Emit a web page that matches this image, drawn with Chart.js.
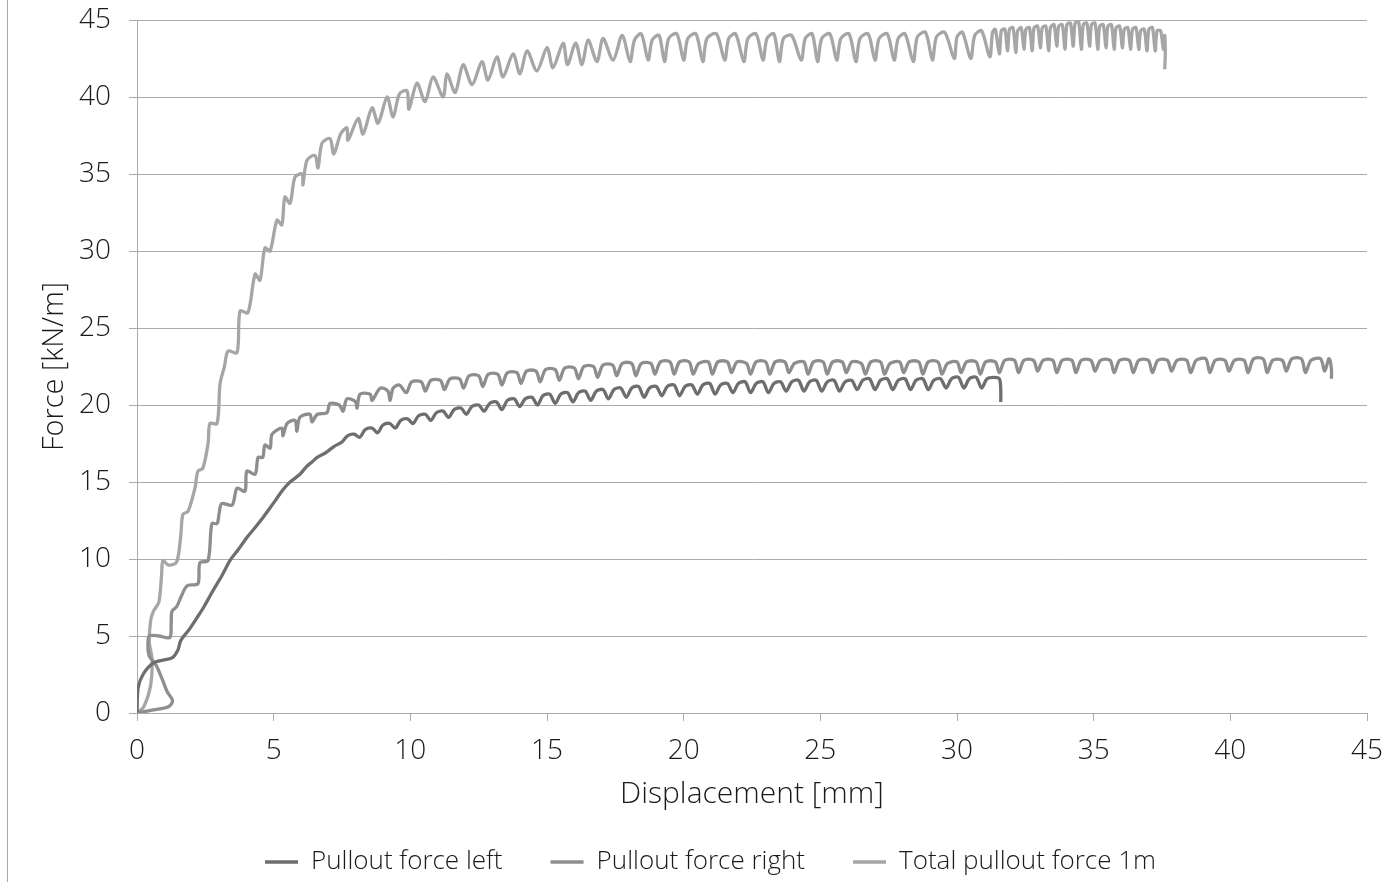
<!DOCTYPE html>
<html><head><meta charset="utf-8">
<script src="https://cdn.jsdelivr.net/npm/chart.js@4.4.1/dist/chart.umd.min.js"></script>
<style>
html,body{margin:0;padding:0;background:#fff;}
#wrap{position:relative;width:1389px;height:893px;}
#border{position:absolute;left:7px;top:0;width:1px;height:882px;background:#a8a8a8;}
</style></head><body>
<div id="wrap"><canvas id="c" width="1389" height="893"></canvas><div id="border"></div></div>
<script>
const seriesNames = ['Pullout force left', 'Pullout force right', 'Total pullout force 1m'];
const seriesColors = ['#6e6e6e', '#8e8e8e', '#a6a6a6'];
const xTicks = [0, 5, 10, 15, 20, 25, 30, 35, 40, 45];
const yTicks = [0, 5, 10, 15, 20, 25, 30, 35, 40, 45];

const leftPts = [[0,0],[0.04,1.6],[0.22,2.5],[0.6,3.25],[1.0,3.45],[1.3,3.6],[1.5,4.1],[1.6,4.7],[1.9,5.4],[2.2,6.2],[2.45,6.9],[2.67,7.6],[2.9,8.3],[3.1,8.9],[3.4,9.9],[3.7,10.6],[4.02,11.4],[4.3,12.0],[4.61,12.7],[4.9,13.4],[5.1,13.9],[5.34,14.5],[5.6,15.0],[5.96,15.5],[6.2,16.0],[6.4,16.3],[6.59,16.6],[6.9,16.9],[7.2,17.3],
[7.5,17.6],[7.7,18.0],[7.95,18.1],
[8.15,17.9],[8.35,18.4],[8.6,18.5],
[8.8,18.2],[9.0,18.7],[9.25,18.8],
[9.45,18.5],[9.65,19.0],[9.9,19.1],
[10.1,18.8],[10.3,19.3],[10.55,19.4],
[10.75,19.0],[10.95,19.5],[11.2,19.6],
[11.4,19.2],[11.6,19.7],[11.85,19.8],
[12.05,19.4],[12.25,19.9],[12.5,20.0],
[12.7,19.6],[12.9,20.1],[13.15,20.2],
[13.35,19.7],[13.55,20.3],[13.8,20.4],
[14.0,19.9],[14.2,20.4],[14.45,20.5],
[14.65,20.0],[14.85,20.6],[15.1,20.7],
[15.3,20.1],[15.5,20.7],[15.75,20.8],
[15.95,20.2],[16.15,20.8],[16.4,20.9],
[16.6,20.3],[16.8,20.9],[17.05,21.0],
[17.25,20.4],[17.45,21.0],[17.7,21.1],
[17.9,20.5],[18.1,21.1],[18.35,21.2],
[18.55,20.5],[18.75,21.1],[19.0,21.2],
[19.2,20.6],[19.4,21.2],[19.65,21.3],
[19.85,20.6],[20.05,21.2],[20.3,21.3],
[20.5,20.7],[20.7,21.3],[20.95,21.4],
[21.15,20.7],[21.35,21.3],[21.6,21.4],
[21.8,20.8],[22.0,21.4],[22.25,21.5],
[22.45,20.8],[22.65,21.4],[22.9,21.5],
[23.1,20.8],[23.3,21.4],[23.55,21.5],
[23.75,20.9],[23.95,21.5],[24.2,21.6],
[24.4,20.9],[24.6,21.5],[24.85,21.6],
[25.05,20.9],[25.25,21.5],[25.5,21.6],
[25.7,20.9],[25.9,21.5],[26.15,21.6],
[26.35,21.0],[26.55,21.6],[26.8,21.7],
[27.0,21.0],[27.2,21.6],[27.45,21.7],
[27.65,21.0],[27.85,21.6],[28.1,21.7],
[28.3,21.0],[28.5,21.6],[28.75,21.7],
[28.95,21.0],[29.15,21.6],[29.4,21.7],
[29.6,21.1],[29.8,21.7],[30.05,21.8],
[30.25,21.1],[30.45,21.7],[30.7,21.8],
[30.9,21.1],[31.1,21.7],[31.35,21.8],
[31.55,21.7],[31.6,21.0],[31.6,20.2]];

const rightPts = [[0,0],[0.6,0.2],[1.15,0.4],[1.3,0.8],[1.1,1.4],[0.9,2.3],[0.7,3.1],[0.45,3.7],[0.4,4.4],[0.45,5.0],[0.8,5.0],[1.2,4.9],[1.25,5.8],[1.28,6.6],[1.45,6.9],[1.6,7.5],[1.76,8.1],[1.87,8.3],[2.23,8.4],[2.3,9.75],[2.6,9.9],[2.74,12.3],[2.93,12.3],[3.0,12.9],[3.1,13.6],[3.48,13.5],[3.66,14.6],[3.95,14.4],[4.02,15.7],[4.32,15.5],[4.43,16.6],[4.6,16.6],[4.68,17.4],[4.87,17.2],[4.94,18.1],[5.3,18.5],[5.34,18.0],[5.49,18.8],[5.78,19.0],[5.85,18.3],[5.96,19.2],[6.33,19.4],[6.4,18.9],[6.6,19.4],[6.95,19.5],[7.06,20.1],[7.4,20.0],[7.54,19.6],[7.68,20.4],[8.0,20.2],[8.05,19.8],[8.16,20.7],[8.53,20.7],[8.6,20.3],[8.9,21.1],[9.18,20.9],[9.26,20.3],[9.37,21.1],[9.6,21.3],
[9.85,20.8],[10.05,21.5],[10.4,21.5],
[10.55,20.9],[10.75,21.6],[11.1,21.6],
[11.25,21.0],[11.45,21.7],[11.8,21.7],
[11.95,21.1],[12.15,21.9],[12.5,21.9],
[12.65,21.2],[12.85,22.0],[13.2,22.0],
[13.35,21.3],[13.55,22.1],[13.9,22.1],
[14.05,21.4],[14.25,22.2],[14.6,22.2],
[14.75,21.5],[14.95,22.3],[15.3,22.3],
[15.45,21.6],[15.65,22.4],[16.0,22.4],
[16.15,21.7],[16.35,22.5],[16.7,22.5],
[16.85,21.8],[17.05,22.6],[17.4,22.6],
[17.55,21.9],[17.75,22.7],[18.1,22.7],
[18.25,21.9],[18.45,22.7],[18.8,22.7],
[18.95,22.0],[19.15,22.8],[19.5,22.8],
[19.65,22.0],[19.85,22.8],[20.2,22.8],
[20.35,22.0],[20.55,22.7],[20.9,22.8],
[21.05,22.0],[21.25,22.8],[21.6,22.8],
[21.75,22.1],[21.95,22.8],[22.3,22.7],
[22.45,22.0],[22.65,22.8],[23.0,22.8],
[23.15,22.0],[23.35,22.8],[23.7,22.8],
[23.85,22.1],[24.05,22.7],[24.4,22.8],
[24.55,22.0],[24.75,22.8],[25.1,22.8],
[25.25,22.0],[25.45,22.8],[25.8,22.8],
[25.95,22.1],[26.15,22.8],[26.5,22.7],
[26.65,22.0],[26.85,22.8],[27.2,22.8],
[27.35,22.0],[27.55,22.7],[27.9,22.8],
[28.05,22.1],[28.25,22.8],[28.6,22.8],
[28.75,22.0],[28.95,22.8],[29.3,22.8],
[29.45,22.0],[29.65,22.7],[30.0,22.8],
[30.15,22.1],[30.35,22.8],[30.7,22.8],
[30.85,22.0],[31.05,22.8],[31.4,22.8],
[31.55,22.1],[31.75,22.9],[32.1,22.9],
[32.25,22.1],[32.45,22.9],[32.8,22.9],
[32.95,22.2],[33.15,22.9],[33.5,22.9],
[33.65,22.1],[33.85,22.9],[34.2,22.9],
[34.35,22.1],[34.55,22.9],[34.9,22.9],
[35.05,22.2],[35.25,22.9],[35.6,22.9],
[35.75,22.1],[35.95,22.9],[36.3,22.9],
[36.45,22.1],[36.65,22.9],[37.0,22.9],
[37.15,22.1],[37.35,22.9],[37.7,22.9],
[37.85,22.2],[38.05,22.9],[38.4,22.9],
[38.55,22.1],[38.75,22.9],[39.1,23.0],
[39.25,22.1],[39.45,22.9],[39.8,22.9],
[39.95,22.2],[40.15,22.9],[40.5,22.9],
[40.65,22.1],[40.85,23.0],[41.2,23.0],
[41.35,22.1],[41.55,22.9],[41.9,22.9],
[42.05,22.2],[42.25,23.0],[42.6,23.0],
[42.75,22.1],[42.95,22.9],[43.3,23.0],
[43.45,22.2],[43.6,23.0],[43.65,22.9],[43.7,22.3],[43.7,21.7]];

const totalPts = [[0,0],[0.25,0.4],[0.5,1.8],[0.55,3.5],[0.45,4.6],[0.5,6.0],[0.6,6.6],[0.8,7.2],[0.9,9.0],[0.95,9.9],[1.15,9.6],[1.45,9.8],[1.6,11.5],[1.68,12.9],[1.87,13.1],[2.12,14.6],[2.23,15.7],[2.41,15.9],[2.6,17.5],[2.67,18.8],[2.93,18.8],[3.04,21.4],[3.2,22.5],[3.33,23.5],[3.66,23.4],[3.77,26.1],[4.06,26.0],[4.32,28.5],[4.5,28.1],[4.68,30.2],[4.87,30.0],[5.12,32.0],[5.3,31.7],[5.41,33.5],[5.6,33.1],[5.78,34.8],[6.04,35.0],[6.07,34.3],[6.22,35.9],[6.51,36.2],[6.62,35.4],[6.77,37.0],[7.06,37.3],[7.2,36.3],[7.45,37.6],[7.68,38.0],[7.72,37.2],[8.09,38.6],[8.27,37.6],[8.6,39.3],[8.82,38.3],[9.15,40.0],[9.37,38.7],[9.6,40.2],[9.88,40.4],[9.95,39.2],[10.24,40.9],[10.54,39.7],[10.83,41.3],[11.2,40.0],[11.34,41.5],[11.64,40.3],[11.93,42.1],[12.26,40.8],[12.62,42.3],[12.84,41.1],[13.17,42.6],[13.39,41.3],[13.76,42.8],[14.01,41.5],[14.27,43.0],[14.63,41.7],[15.0,43.2],[15.22,41.9],[15.59,43.5],[15.75,42.1],[16.05,43.5],[16.28,42.1],[16.5,43.7],[16.83,42.3],[17.05,43.8],[17.42,42.4],[17.75,44.0],
[18.04,42.3],[18.2,43.7],[18.45,44.1],
[18.7,42.4],[18.85,43.7],[19.1,44.0],
[19.3,42.3],[19.45,43.8],[19.75,44.1],
[20.0,42.4],[20.15,43.8],[20.45,44.1],
[20.7,42.3],[20.85,43.8],[21.2,44.1],
[21.5,42.4],[21.65,43.8],[21.9,44.1],
[22.2,42.3],[22.35,43.8],[22.65,44.1],
[22.9,42.4],[23.05,43.8],[23.3,44.1],
[23.5,42.3],[23.65,43.8],[23.95,44.0],
[24.3,42.4],[24.45,43.8],[24.7,44.1],
[24.9,42.3],[25.05,43.8],[25.35,44.1],
[25.6,42.4],[25.75,43.8],[26.05,44.1],
[26.3,42.3],[26.45,43.8],[26.75,44.1],
[27.0,42.4],[27.15,43.8],[27.45,44.1],
[27.7,42.4],[27.85,43.8],[28.1,44.1],
[28.4,42.3],[28.55,43.9],[28.85,44.2],
[29.1,42.4],[29.25,43.9],[29.55,44.2],
[29.9,42.5],[30.0,43.9],[30.2,44.2],
[30.5,42.5],[30.65,44.0],[30.9,44.3],
[31.2,42.6],[31.3,44.2],[31.4,44.4],
[31.55,42.8],[31.62,44.3],[31.75,44.4],
[31.85,43.0],[31.92,44.4],[32.05,44.5],
[32.15,42.9],[32.22,44.3],[32.35,44.5],
[32.45,43.1],[32.52,44.4],[32.65,44.5],
[32.75,43.0],[32.82,44.5],[32.95,44.6],
[33.05,43.2],[33.12,44.5],[33.25,44.6],
[33.35,43.0],[33.42,44.5],[33.55,44.7],
[33.65,43.3],[33.72,44.6],[33.85,44.7],
[33.95,43.1],[34.02,44.7],[34.15,44.8],
[34.25,43.3],[34.32,44.8],[34.45,44.9],
[34.55,43.1],[34.62,44.7],[34.75,44.8],
[34.85,43.3],[34.92,44.7],[35.05,44.8],
[35.15,43.1],[35.22,44.6],[35.35,44.7],
[35.45,43.2],[35.52,44.6],[35.65,44.7],
[35.75,43.1],[35.82,44.5],[35.95,44.6],
[36.05,43.2],[36.12,44.4],[36.25,44.5],
[36.35,43.1],[36.42,44.4],[36.55,44.5],
[36.65,43.1],[36.72,44.3],[36.85,44.4],
[36.95,43.0],[37.02,44.4],[37.15,44.5],
[37.25,43.0],[37.32,44.3],[37.45,44.3],
[37.55,43.1],[37.6,44.0],[37.62,42.8],[37.6,41.8]];

const FONT = "'Open Sans', 'Liberation Sans', Arial, sans-serif";
const TEXT = '#1a1a1a';
const GRID = '#ababab';

const toXY = pts => pts.map(p => ({x: p[0], y: p[1]}));
const allPts = [leftPts, rightPts, totalPts];

const datasets = seriesNames.map((name, i) => ({
  label: name,
  data: toXY(allPts[i]),
  showLine: true,
  borderColor: seriesColors[i],
  backgroundColor: seriesColors[i],
  borderWidth: 3.3,
  pointRadius: 0,
  pointHoverRadius: 0,
  tension: 0.3,
  pointStyle: 'line',
  order: i
}));

const legendShift = {
  id: 'legendShift',
  afterLayout(chart) {
    if (chart.legend) { chart.legend.left += 27; chart.legend.right += 27; }
  }
};

new Chart(document.getElementById('c'), {
  type: 'scatter',
  data: {datasets},
  plugins: [legendShift],
  options: {
    responsive: false,
    animation: false,
    layout: {padding: {left: 0, top: 20, right: 22, bottom: 8}},
    plugins: {
      tooltip: {enabled: false},
      legend: {
        position: 'bottom',
        labels: {
          usePointStyle: true, pointStyle: 'line', pointStyleWidth: 33, boxHeight: 4,
          padding: 48, color: TEXT, font: {size: 26, family: FONT, weight: 300}
        }
      }
    },
    scales: {
      x: {
        type: 'linear', min: 0, max: 45,
        afterBuildTicks: s => { s.ticks = xTicks.map(v => ({value: v})); },
        ticks: {color: TEXT, font: {size: 28, family: FONT, weight: 300}, padding: 13, maxRotation: 0},
        grid: {drawOnChartArea: false, drawTicks: true, tickLength: 8, color: GRID, lineWidth: 1},
        border: {color: GRID, width: 1},
        title: {display: true, text: 'Displacement [mm]', color: TEXT, font: {size: 30, family: FONT, weight: 300}, padding: {top: 0, bottom: -11}},
        afterFit: s => { s.height = 88; s.paddingLeft = 0; s.paddingRight = 0; }
      },
      y: {
        type: 'linear', min: 0, max: 45,
        afterBuildTicks: s => { s.ticks = yTicks.map(v => ({value: v})); },
        ticks: {color: TEXT, font: {size: 28, family: FONT, weight: 300}, padding: 18},
        grid: {color: GRID, lineWidth: 1, tickLength: 8},
        border: {color: GRID, width: 1},
        title: {display: true, text: 'Force [kN/m]', color: TEXT, font: {size: 29, family: FONT, weight: 300}, padding: {top: 37, bottom: 0}},
        afterFit: s => { s.width = 137; s.paddingTop = 0; s.paddingBottom = 0; }
      }
    }
  }
});
</script>
</body></html>
